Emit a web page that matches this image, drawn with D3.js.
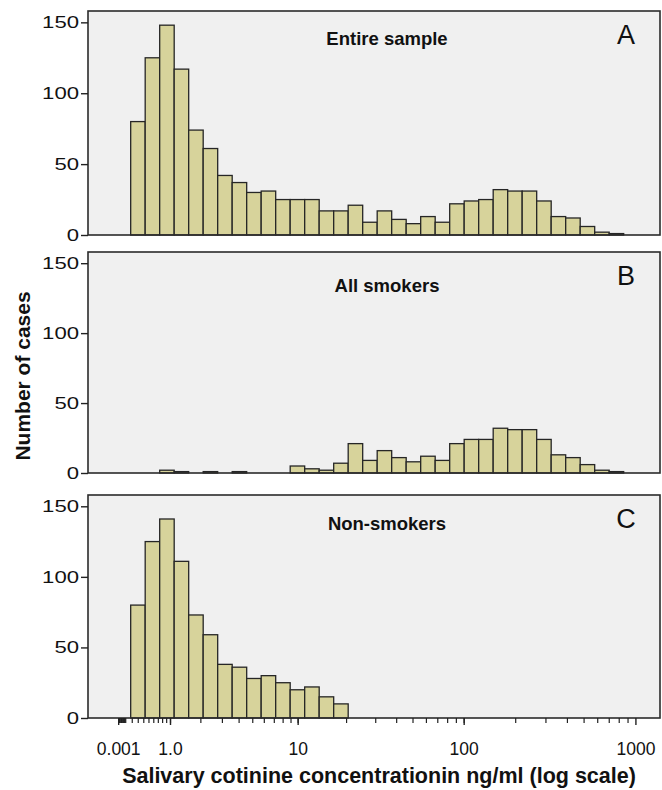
<!DOCTYPE html>
<html>
<head>
<meta charset="utf-8">
<script src="https://cdn.jsdelivr.net/npm/d3@7"></script>
<style>
    body { margin: 0; background: #fff; }
    svg { display: block; font-family: "Liberation Sans", Arial, Helvetica, sans-serif; }
</style>
</head>
<body>
<div id="canvas"></div>
<script>
"use strict"

/* Data: counts per bin (bins are equal width on log10(ng/ml + 1)) */
let entireSample = [80, 125, 148, 117, 74, 61, 42, 37, 30, 31, 25, 25, 25, 17, 17, 21, 9, 17, 11, 8,
    13, 9, 22, 24, 25, 32, 31, 31, 24, 13, 12, 6, 2, 1];
let allSmokers = [0, 0, 2, 1, 0, 1, 0, 1, 0, 0, 0, 5, 3, 2, 7, 21, 9, 16, 11, 8,
    12, 9, 21, 24, 24, 32, 31, 31, 24, 13, 11, 6, 2, 1];
let nonSmokers = [80, 125, 141, 111, 73, 59, 38, 36, 28, 30, 25, 20, 22, 15, 10, 0, 0, 0, 0, 0,
    0, 0, 0, 0, 0, 0, 0, 0, 0, 0, 0, 0, 0, 0];

/* bin definition, in log10(concentration + 1) */
let binStartLog = 0.073;
let binWidthLog = 0.0841;

let panelTitles = ["Entire sample", "All smokers", "Non-smokers"];
let panelLetters = ["A", "B", "C"];

let yTickValues = [0, 50, 100, 150];
let xTickValues = [0.001, 1, 10, 100, 1000];
let xTickLabels = ["0.001", "1.0", "10", "100", "1000"];

/* Layout */
let width = 662, height = 790;
let plotLeft = 88, plotRight = 660;
let panelTops = [11, 252, 495];
let panelHeights = [224, 221, 223];
let titleOffsets = [34, 40, 35];
let yMax = 158;

let drawing = d3.select("#canvas")
    .append("svg")
    .attr("width", width)
    .attr("height", height);

/* x scale works on (concentration + 1) so zero fits on a log axis */
let xScale = d3.scaleLog()
    .domain([1, 1390])
    .range([118.1, plotRight]);

function binEdge(i) {
    return Math.pow(10, binStartLog + binWidthLog * i);   // already concentration + 1
}

let series = [entireSample, allSmokers, nonSmokers];

series.forEach(function (counts, k) {
    let top = panelTops[k];
    let h = panelHeights[k];
    let yScale = d3.scaleLinear()
        .domain([0, yMax])
        .range([top + h, top]);

    /* panel background */
    drawing.append("rect")
        .attr("x", plotLeft)
        .attr("y", top)
        .attr("width", plotRight - plotLeft)
        .attr("height", h)
        .attr("fill", "#f0f0f0");

    /* bars */
    let bins = counts.map(function (c, i) { return { count: c, i: i }; })
        .filter(function (d) { return d.count > 0; });

    drawing.append("g")
        .selectAll("rect")
        .data(bins)
        .join("rect")
        .attr("x", d => xScale(binEdge(d.i)))
        .attr("width", d => xScale(binEdge(d.i + 1)) - xScale(binEdge(d.i)))
        .attr("y", d => yScale(d.count))
        .attr("height", d => yScale(0) - yScale(d.count))
        .attr("fill", "#d7d39b")
        .attr("stroke", "#262626")
        .attr("stroke-width", 1.3);

    /* panel border */
    drawing.append("rect")
        .attr("x", plotLeft)
        .attr("y", top)
        .attr("width", plotRight - plotLeft)
        .attr("height", h)
        .attr("fill", "none")
        .attr("stroke", "#2b2b2b")
        .attr("stroke-width", 1.6);

    /* y axis */
    let yAxis = drawing.append("g")
        .attr("transform", "translate(" + plotLeft + ",0)")
        .call(d3.axisLeft(yScale).tickValues(yTickValues).tickSize(7).tickPadding(2));
    yAxis.select(".domain").remove();
    yAxis.selectAll("line").attr("stroke", "#222").attr("stroke-width", 1.4);
    yAxis.selectAll("text")
        .attr("font-size", 17)
        .attr("fill", "#111")
        .attr("font-family", "Liberation Sans, Arial, sans-serif")
        .attr("textLength", d => String(d).length * 12.3)
        .attr("lengthAdjust", "spacingAndGlyphs");

    /* panel title */
    drawing.append("text")
        .attr("x", 387)
        .attr("y", top + titleOffsets[k])
        .attr("text-anchor", "middle")
        .attr("font-size", 18.5)
        .attr("font-weight", "bold")
        .attr("fill", "#111")
        .text(panelTitles[k]);

    /* panel letter */
    drawing.append("text")
        .attr("x", 626)
        .attr("y", top + 33)
        .attr("text-anchor", "middle")
        .attr("font-size", 27)
        .attr("fill", "#111")
        .text(panelLetters[k]);
});

/* x axis below the last panel */
let axisY = panelTops[2] + panelHeights[2];

let minorValues = [];
[-3, -2, -1, 0, 1, 2].forEach(function (p) {
    for (let d = 1; d <= 9; d++) {
        minorValues.push(d * Math.pow(10, p));
    }
});

let minorAxis = drawing.append("g")
    .attr("transform", "translate(0," + axisY + ")")
    .call(d3.axisBottom(xScale)
        .tickValues(minorValues.map(v => v + 1))
        .tickSize(5)
        .tickFormat(""));
minorAxis.select(".domain").remove();
minorAxis.selectAll("line").attr("stroke", "#222").attr("stroke-width", 1.2);

let majorAxis = drawing.append("g")
    .attr("transform", "translate(0," + axisY + ")")
    .call(d3.axisBottom(xScale)
        .tickValues(xTickValues.map(v => v + 1))
        .tickSize(7)
        .tickFormat((d, i) => xTickLabels[i]));
majorAxis.select(".domain").remove();
majorAxis.selectAll("line").attr("stroke", "#222").attr("stroke-width", 1.4);
majorAxis.selectAll("text")
    .attr("y", 25)
    .attr("font-size", 17.5)
    .attr("fill", "#111")
    .attr("font-family", "Liberation Sans, Arial, sans-serif");

/* axis titles */
drawing.append("text")
    .attr("x", 379)
    .attr("y", 783)
    .attr("text-anchor", "middle")
    .attr("font-size", 21.5)
    .attr("font-weight", "bold")
    .attr("fill", "#111")
    .text("Salivary cotinine concentrationin ng/ml (log scale)");

drawing.append("text")
    .attr("transform", "translate(30,376) rotate(-90)")
    .attr("text-anchor", "middle")
    .attr("font-size", 21)
    .attr("font-weight", "bold")
    .attr("fill", "#111")
    .text("Number of cases");
</script>
</body>
</html>
